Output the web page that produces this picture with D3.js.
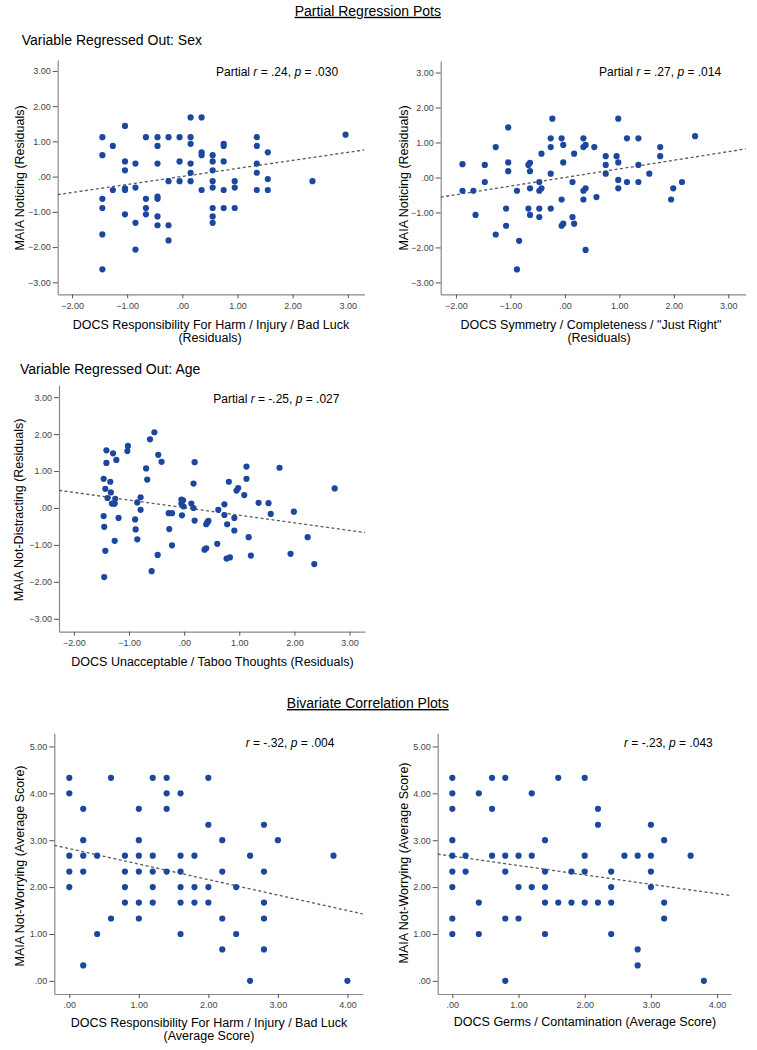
<!DOCTYPE html>
<html>
<head>
<meta charset="utf-8">
<script src="https://cdn.jsdelivr.net/npm/d3@7/dist/d3.min.js"></script>
<style>
  html, body { margin: 0; padding: 0; background: #fff; }
  svg { display: block; font-family: "Liberation Sans", Arial, sans-serif; }
</style>
</head>
<body>
<svg id="chart" width="757" height="1050"></svg>
<script>
// ---------------- DATA ----------------
const sectionTitles = ["Partial Regression Pots", "Bivariate Correlation Plots"];
const subTitles = ["Variable Regressed Out: Sex", "Variable Regressed Out: Age"];

const residTicksX = [-2, -1, 0, 1, 2, 3];
const residTicksY = [-3, -2, -1, 0, 1, 2, 3];
const scoreTicksX = [0, 1, 2, 3, 4];
const scoreTicksY = [0, 1, 2, 3, 4, 5];

// Panel 1: DOCS Responsibility (resid) vs MAIA Noticing (resid)
const p1x = [-1.45,-1.45,-1.45,-1.45,-1.45,-1.45,-1.26,-1.26,-1.04,-1.04,-1.04,-1.04,-1.04,-1.04,
  -0.85,-0.85,-0.85,-0.85,-0.66,-0.66,-0.66,-0.66,-0.45,-0.45,-0.45,-0.45,-0.45,-0.45,-0.45,
  -0.25,-0.25,-0.25,-0.25,-0.05,-0.05,-0.05,0.15,0.15,0.15,0.15,0.15,0.15,0.35,0.35,0.35,0.35,
  0.55,0.55,0.55,0.55,0.55,0.55,0.55,0.55,0.75,0.75,0.75,0.75,0.75,0.95,0.95,0.95,
  1.35,1.35,1.35,1.35,1.35,1.55,1.55,1.55,2.36,2.96];
const p1y = [1.12,0.61,-0.63,-0.89,-1.64,-2.63,0.87,-0.38,1.44,0.43,0.18,-0.33,-0.38,-1.07,
  0.37,-0.31,-1.31,-2.07,1.12,-0.63,-0.89,-1.07,1.12,0.87,0.37,-0.57,-0.63,-1.13,-1.38,
  1.12,-0.13,-1.38,-1.81,1.12,0.43,-0.13,1.68,1.12,0.93,0.37,0.11,-0.13,1.68,0.69,0.61,-0.38,
  0.61,0.43,0.18,-0.13,-0.31,-0.89,-1.13,-1.31,0.93,0.87,0.43,-0.38,-0.89,-0.13,-0.31,-0.89,
  1.12,0.87,0.37,0.11,-0.38,0.69,-0.07,-0.38,-0.13,1.19];

// Panel 2: DOCS Symmetry (resid) vs MAIA Noticing (resid)
const p2x = [-1.88,-1.88,-1.68,-1.64,-1.47,-1.47,-1.27,-1.27,-1.04,-1.04,-1.04,-1.08,-1.08,
  -0.88,-0.84,-0.88,-0.67,-0.64,-0.64,-0.64,-0.67,-0.64,-0.47,-0.47,-0.43,-0.47,-0.47,-0.43,
  -0.26,-0.26,-0.26,-0.26,-0.23,-0.06,-0.03,-0.03,-0.06,-0.03,-0.06,0.14,0.14,0.17,0.17,
  0.34,0.34,0.38,0.34,0.38,0.34,0.38,0.54,0.58,0.75,0.75,0.75,0.95,0.98,0.98,0.98,0.98,
  1.14,1.14,1.35,1.35,1.35,1.55,1.75,1.75,1.95,1.99,2.15,2.39];
const p2y = [0.38,-0.38,-0.38,-1.07,0.36,-0.13,0.87,-1.63,1.43,0.43,0.18,-0.89,-1.38,
  -0.38,-1.81,-2.63,0.36,0.42,0.18,-0.31,-0.89,-1.07,-0.13,-0.38,-0.31,-0.89,-1.13,0.68,
  1.12,0.87,0.11,-0.89,1.68,1.12,0.93,0.43,-0.63,-1.32,-1.38,-0.13,-1.13,-1.32,0.68,
  1.12,0.87,0.93,-0.38,-0.31,-0.63,-2.07,0.87,-0.56,0.61,0.36,0.11,0.61,1.68,0.43,-0.07,-0.31,
  1.12,-0.13,1.12,0.36,-0.13,0.11,0.87,0.61,-0.63,-0.31,-0.13,1.18];

// Panel 3: DOCS Unacceptable/Taboo (resid) vs MAIA Not-Distracting (resid)
const p3x = [-1.46,-1.46,-1.45,-1.43,-1.45,-1.41,-1.41,-1.43,-1.39,-1.34,-1.33,-1.29,-1.31,-1.27,
  -1.25,-1.26,-1.26,-1.23,-1.19,-1.02,-1.03,-0.89,-0.88,-0.85,-0.85,-0.79,-0.79,-0.69,-0.67,
  -0.62,-0.59,-0.54,-0.48,-0.47,-0.41,-0.28,-0.22,-0.27,-0.22,-0.05,-0.05,-0.04,-0.02,-0.01,
  0.13,0.17,0.17,0.19,0.19,0.40,0.42,0.37,0.40,0.44,0.60,0.62,0.73,0.73,0.78,0.81,0.77,0.83,
  0.91,0.91,0.95,0.98,1.09,1.13,1.13,1.17,1.21,1.35,1.53,1.57,1.73,1.93,1.99,2.24,2.36,2.73];
const p3y = [0.79,-0.22,-0.51,-1.16,-1.87,1.56,1.22,0.52,0.27,0.71,0.42,1.48,0.12,0.12,
  0.25,0.12,-0.89,1.30,-0.27,1.68,1.54,-0.31,-0.58,0.15,-0.85,0.29,-0.05,1.07,0.77,
  1.86,-1.71,2.05,-1.27,1.44,1.25,-0.14,-0.14,-0.57,-1.01,0.23,0.12,-0.20,0.21,0.04,
  0.12,0.00,0.66,-0.34,1.24,-0.44,-0.39,-1.13,-1.09,-0.35,-0.97,-0.05,0.10,-0.19,-0.44,0.71,-1.37,-1.34,
  -0.27,-0.61,0.47,0.54,0.35,1.12,0.79,-0.79,-1.29,0.14,0.13,-0.16,1.09,-1.24,-0.10,-0.79,-1.52,0.53];

// Panel 4: DOCS Responsibility (avg) vs MAIA Not-Worrying (avg)
const p4x = [0,0,0,0,0, 0.2,0.2,0.2,0.2,0.2, 0.4,0.4, 0.6,0.6, 0.8,0.8,0.8,0.8,
  1,1,1,1,1,1, 1.2,1.2,1.2,1.2,1.2, 1.4,1.4,1.4,1.4, 1.6,1.6,1.6,1.6,1.6,1.6,
  1.8,1.8,1.8, 2,2,2,2, 2.2,2.2,2.2,2.2, 2.4,2.4, 2.6,2.6, 2.8,2.8,2.8,2.8,2.8, 3, 3.8, 4];
const p4y = [4.33,4,2.67,2.33,2, 3.67,3,2.67,2.33,0.33, 2.67,1, 4.33,1.33, 2.67,2.33,2,1.67,
  3.67,3,2.67,2.33,1.67,1.33, 4.33,2.67,2.33,2,1.67, 4.33,4,3.67,2.33, 4,2.67,2.33,2,1.67,1,
  2.67,2,1.67, 4.33,3.33,2,1.67, 3,2.33,1.33,0.67, 2,1, 2.67,0, 3.33,2.33,1.67,1.33,0.67, 3, 2.67, 0];

// Panel 5: DOCS Germs / Contamination (avg) vs MAIA Not-Worrying (avg)
const p5x = [0,0,0,0,0,0,0,0,0, 0.2,0.2, 0.4,0.4,0.4, 0.6,0.6,0.6, 0.8,0.8,0.8,0.8,0.8,
  1,1,1, 1.2,1.2,1.2, 1.4,1.4,1.4,1.4,1.4, 1.6,1.6, 1.8,1.8, 2,2,2,2, 2.2,2.2,2.2,
  2.4,2.4,2.4,2.4, 2.6, 2.8,2.8,2.8, 3,3,3,3, 3.2,3.2,3.2, 3.6, 3.8];
const p5y = [4.33,4,3.67,3,2.67,2.33,2,1.33,1, 2.67,2.33, 4,1.67,1, 4.33,3.67,2.67, 4.33,2.67,2.33,1.33,0,
  2.67,2,1.33, 4,2.67,2, 3,2.33,2,1.67,1, 4.33,1.67, 2.33,1.67, 4.33,2.67,2.33,1.67, 3.67,3.33,1.67,
  2.33,2,1.67,1, 2.67, 2.67,0.67,0.33, 3.33,2.67,2.33,2, 3,1.67,1.33, 2.67, 0];

// Fit lines (slope, intercept)
const fitSlopes = [0.228, 0.246, -0.206, -0.33, -0.20];
const fitIntercepts = [0.005, 0.0, 0.01, 2.82, 2.66];

// Annotations: [prefix, r-value text, p-value text]
const annotPrefix = ["Partial ", "Partial ", "Partial ", "", ""];
const annotR = [" = .24, ", " = .27, ", " = -.25, ", " = -.32, ", " = -.23, "];
const annotP = [" = .030", " = .014", " = .027", " = .004", " = .043"];

const yLabels = ["MAIA Noticing (Residuals)", "MAIA Noticing (Residuals)", "MAIA Not-Distracting (Residuals)",
  "MAIA Not-Worrying (Average Score)", "MAIA Not-Worrying (Average Score)"];
const xLabels = [
  ["DOCS Responsibility For Harm / Injury / Bad Luck", "(Residuals)"],
  ["DOCS Symmetry / Completeness / \"Just Right\"", "(Residuals)"],
  ["DOCS Unacceptable / Taboo Thoughts (Residuals)"],
  ["DOCS Responsibility For Harm / Injury / Bad Luck", "(Average Score)"],
  ["DOCS Germs / Contamination (Average Score)"]
];

// ---------------- LAYOUT ----------------
const layout = [
  { xr: [57.7, 364.3], yr: [294.3, 60], xd: [-2.26, 3.30], yd: [-3.34, 3.31], xt: residTicksX, yt: residTicksY,
    ann: [216, 76], yl: [23.5, 178], xl: [[211, 328.5], [210, 341.5]] },
  { xr: [440.7, 745.7], yr: [294.3, 61], xd: [-2.28, 3.32], yd: [-3.34, 3.33], xt: residTicksX, yt: residTicksY,
    ann: [599, 76], yl: [408, 178], xl: [[591, 328.5], [599, 341.5]] },
  { xr: [59, 365], yr: [631.7, 385], xd: [-2.27, 3.28], yd: [-3.35, 3.33], xt: residTicksX, yt: residTicksY,
    ann: [213.3, 403], yl: [23, 510], xl: [[212.5, 666]] },
  { xr: [54.3, 362.7], yr: [994, 733.3], xd: [-0.216, 4.22], yd: [-0.28, 5.28], xt: scoreTicksX, yt: scoreTicksY,
    ann: [245.7, 747], yl: [23.5, 866], xl: [[209, 1027], [209, 1039.5]] },
  { xr: [437.7, 731], yr: [994, 733.3], xd: [-0.221, 4.21], yd: [-0.28, 5.28], xt: scoreTicksX, yt: scoreTicksY,
    ann: [624, 747], yl: [408, 863], xl: [[585, 1026]] }
];
const xsAll = [p1x, p2x, p3x, p4x, p5x];
const ysAll = [p1y, p2y, p3y, p4y, p5y];

const svg = d3.select("#chart");
svg.append("rect").attr("width", 757).attr("height", 1050).attr("fill", "#fff");

// Section titles
[[367.8, 15.8], [367.8, 708]].forEach((pos, i) => {
  svg.append("text").attr("x", pos[0]).attr("y", pos[1]).attr("text-anchor", "middle")
    .attr("font-size", 14).attr("fill", "#000").style("text-decoration", "underline")
    .text(sectionTitles[i]);
});
[[21.7, 44.5], [20, 373.5]].forEach((pos, i) => {
  svg.append("text").attr("x", pos[0]).attr("y", pos[1])
    .attr("font-size", 14).attr("fill", "#000").text(subTitles[i]);
});

const fmt = v => d3.format(".2f")(v).replace(/^(-?)0\./, "$1.");

layout.forEach((L, i) => {
  const g = svg.append("g");
  const x = d3.scaleLinear().domain(L.xd).range(L.xr);
  const y = d3.scaleLinear().domain(L.yd).range(L.yr);

  const yAxis = d3.axisLeft(y).tickValues(L.yt).tickFormat(fmt).tickSize(5).tickSizeOuter(0).tickPadding(2);
  const xAxis = d3.axisBottom(x).tickValues(L.xt).tickFormat(fmt).tickSize(4).tickSizeOuter(0).tickPadding(4);

  const ga = g.append("g").attr("transform", `translate(${L.xr[0]},0)`).call(yAxis);
  const gb = g.append("g").attr("transform", `translate(0,${L.yr[0]})`).call(xAxis);
  [ga, gb].forEach(a => {
    a.select(".domain").attr("stroke", "#8a8a8a").attr("stroke-width", 1.2);
    a.selectAll(".tick line").attr("stroke", "#555").attr("stroke-width", 1);
    a.selectAll(".tick text").attr("fill", "#444").attr("font-size", 9)
      .attr("font-family", "'Liberation Sans', Arial, sans-serif");
  });

  // fit line
  const xs0 = L.xd[0], xs1 = L.xd[1];
  g.append("line")
    .attr("x1", x(xs0)).attr("y1", y(fitIntercepts[i] + fitSlopes[i] * xs0))
    .attr("x2", x(xs1)).attr("y2", y(fitIntercepts[i] + fitSlopes[i] * xs1))
    .attr("stroke", "#5a5a5a").attr("stroke-width", 1.3).attr("stroke-dasharray", "3,2.5");

  // points
  const pts = xsAll[i].map((v, k) => [v, ysAll[i][k]]);
  g.selectAll("circle.pt").data(pts).enter().append("circle")
    .attr("class", "pt")
    .attr("cx", d => x(d[0])).attr("cy", d => y(d[1])).attr("r", 3.1)
    .attr("fill", "#1b479e");

  // annotation
  const t = g.append("text").attr("x", L.ann[0]).attr("y", L.ann[1]).attr("font-size", 12).attr("fill", "#000");
  if (annotPrefix[i]) t.append("tspan").text(annotPrefix[i]);
  t.append("tspan").attr("font-style", "italic").text("r");
  t.append("tspan").text(annotR[i]);
  t.append("tspan").attr("font-style", "italic").text("p");
  t.append("tspan").text(annotP[i]);

  // y label
  g.append("text").attr("transform", `translate(${L.yl[0]},${L.yl[1]}) rotate(-90)`)
    .attr("text-anchor", "middle").attr("font-size", 12.5).attr("fill", "#000").text(yLabels[i]);

  // x label lines
  xLabels[i].forEach((line, k) => {
    g.append("text").attr("x", L.xl[k][0]).attr("y", L.xl[k][1]).attr("text-anchor", "middle")
      .attr("font-size", 12.5).attr("fill", "#000").text(line);
  });
});
</script>
</body>
</html>
